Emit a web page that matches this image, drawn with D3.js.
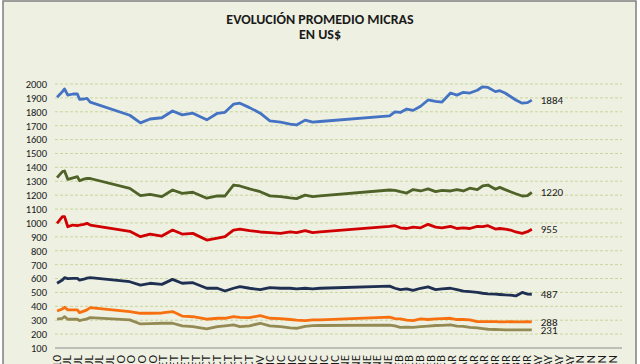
<!DOCTYPE html>
<html>
<head>
<meta charset="utf-8" />
<title>Evolución promedio micras</title>
<style>
html, body {
    padding: 0px;
    margin: 0px;
    background: #fff;
}
svg text {
    font-family: Calibri, Carlito, "Liberation Sans", Arial, sans-serif;
}
.grid line {
    stroke: #c9d59c;
    stroke-dasharray: 3 2;
}
</style>
</head>
<body>
<div id="chart"></div>

<script src="https://cdn.jsdelivr.net/npm/d3@7"></script>
<script>
!(function(){
    "use strict"

    // x tick labels (only their last letters fall inside the picture)
    var tickLabels = ["2010",
        "02-JUL","09-JUL","16-JUL","23-JUL","30-JUL",
        "06-AGO","13-AGO","20-AGO","27-AGO",
        "03-SET","10-SET","17-SET","24-SET","01-OCT","08-OCT","15-OCT","22-OCT","29-OCT",
        "05-NOV",
        "03-DIC","06-DIC","10-DIC","13-DIC","17-DIC","20-DIC","23-DIC",
        "07-ENE","14-ENE","21-ENE","25-ENE","28-ENE",
        "04-FEB","08-FEB","11-FEB","18-FEB","25-FEB",
        "04-MAR","11-MAR","18-MAR","25-MAR","01-ABR","08-ABR","15-ABR","29-ABR",
        "06-MAY","13-MAY","20-MAY","27-MAY",
        "03-JUN","10-JUN","17-JUN","24-JUN"]

    var yTicks = d3.range(100, 2001, 100)

    // time of each quote, in label steps
    var semana = [0.1,0.6,0.8,1.1,1.6,2.0,2.2,2.6,2.9,3.2,
        6.9,7.9,8.8,9.9,10.9,11.8,12.8,14.1,15.1,15.8,
        16.6,17.2,18.1,19.1,20.0,21.0,21.9,22.5,23.3,24.0,
        24.7,31.2,31.7,32.2,32.8,33.4,34.1,34.8,35.5,36.1,
        36.9,37.5,38.1,38.7,39.4,39.9,40.4,41.1,41.5,42.0,
        42.5,43.0,43.6,44.1,44.5]

    var s1 = [1905,1945,1965,1920,1928,1928,1890,1892,1897,1870,
        1775,1720,1748,1757,1806,1778,1790,1742,1789,1796,
        1855,1862,1830,1790,1735,1725,1712,1705,1740,1725,
        1730,1770,1800,1795,1820,1810,1840,1885,1875,1870,
        1935,1920,1940,1935,1955,1980,1975,1945,1952,1935,
        1910,1885,1862,1866,1884]

    var s2 = [1326,1369,1374,1314,1325,1333,1304,1315,1321,1320,
        1249,1196,1206,1189,1237,1213,1221,1178,1194,1194,
        1273,1266,1245,1225,1195,1190,1180,1175,1200,1190,
        1195,1237,1235,1225,1215,1240,1230,1245,1225,1235,
        1230,1240,1230,1250,1240,1266,1273,1242,1256,1240,
        1225,1210,1194,1196,1220]

    var s3 = [997,1045,1045,973,985,980,985,990,997,985,
        940,901,920,906,949,920,925,877,890,901,
        949,956,945,935,930,925,935,930,945,930,
        935,975,980,965,960,970,965,990,970,965,
        975,960,965,960,975,973,980,956,960,955,
        949,935,925,937,955]

    var s4 = [566,589,606,600,601,601,589,595,603,606,
        577,553,566,558,594,566,570,530,530,510,
        530,541,530,520,535,530,530,525,530,525,
        530,545,530,520,525,515,530,540,520,525,
        530,520,510,505,500,494,490,488,485,482,
        480,475,500,488,487]

    var s5 = [366,381,393,374,374,374,355,365,374,390,
        362,350,350,352,362,330,325,307,314,314,
        326,321,318,333,314,312,305,300,297,302,
        302,322,312,310,300,297,309,305,310,312,
        314,305,305,302,290,290,290,290,288,288,
        290,288,288,289,288]

    var s6 = [307,314,326,307,307,307,297,305,310,319,
        302,273,275,278,278,259,254,237,254,260,
        266,254,259,278,259,254,245,242,255,261,
        262,265,259,249,250,249,254,258,262,263,
        266,258,255,249,245,240,235,233,232,230,
        230,230,230,231,231]

    var series = [s1, s2, s3, s4, s5, s6]
    var colors = ["#4573c4", "#4f6228", "#d00000", "#1f2f52", "#f7700f", "#948a54"]

    var W = 640, H = 364

    var svg = d3.select("#chart").append("svg")
        .attr("width", W)
        .attr("height", H)

    // chart background + frame
    svg.append("rect")
        .attr("x", 3).attr("y", 1)
        .attr("width", 633).attr("height", H + 10)
        .attr("fill", "#eef0e2")
        .attr("stroke", "#7f7f7f")
        .attr("stroke-width", 1.5)

    var x = d3.scaleLinear().domain([0, tickLabels.length - 1]).range([56, 612])
    var y = d3.scaleLinear().domain([100, 2000]).range([348, 84])

    var gridRight = 622

    svg.append("g").attr("class", "grid")
        .selectAll("line")
        .data(yTicks.filter(function(d){ return d > 100 }))
        .enter().append("line")
        .attr("x1", 55).attr("x2", gridRight)
        .attr("y1", function(d){ return y(d) })
        .attr("y2", function(d){ return y(d) })

    // y axis labels
    var yAxis = d3.axisLeft(y).tickValues(yTicks).tickSize(0).tickPadding(0).tickFormat(d3.format("d"))
    var gy = svg.append("g").attr("transform", "translate(47,0)").call(yAxis)
    gy.select(".domain").remove()
    gy.selectAll("text").attr("font-size", 10.5).attr("fill", "#1a1a1a")

    // x axis
    svg.append("line")
        .attr("x1", 55).attr("x2", gridRight)
        .attr("y1", y(100)).attr("y2", y(100))
        .attr("stroke", "#8c8c8c").attr("stroke-width", 1)

    svg.append("g").selectAll("text")
        .data(tickLabels)
        .enter().append("text")
        .attr("transform", function(d, i){ return "translate(" + x(i) + "," + (y(100) + 7) + ") rotate(-90)" })
        .attr("text-anchor", "end")
        .attr("dy", "0.35em")
        .attr("font-size", 13)
        .attr("fill", "#1a1a1a")
        .text(function(d){ return d })

    var line = d3.line()
        .x(function(d){ return x(d[0]) })
        .y(function(d){ return y(d[1]) })

    series.forEach(function(s, k){
        var pts = semana.map(function(t, i){ return [t, s[i]] })
        svg.append("path")
            .datum(pts)
            .attr("fill", "none")
            .attr("stroke", colors[k])
            .attr("stroke-width", 2.8)
            .attr("stroke-linejoin", "round")
            .attr("d", line)

        var last = pts[pts.length - 1]
        svg.append("text")
            .attr("x", x(last[0]) + 9)
            .attr("y", y(last[1]))
            .attr("dy", "0.35em")
            .attr("font-size", 11)
            .attr("fill", "#1a1a1a")
            .text(last[1])
    })

    // title
    var title = svg.append("text")
        .attr("x", 320).attr("y", 24)
        .attr("text-anchor", "middle")
        .attr("font-size", 14)
        .attr("font-weight", "bold")
        .attr("fill", "#1a1a1a")
    title.append("tspan").attr("x", 320).text("EVOLUCIÓN PROMEDIO MICRAS")
    title.append("tspan").attr("x", 320).attr("dy", 15).text("EN US$")

}());
</script>
</body>
</html>
